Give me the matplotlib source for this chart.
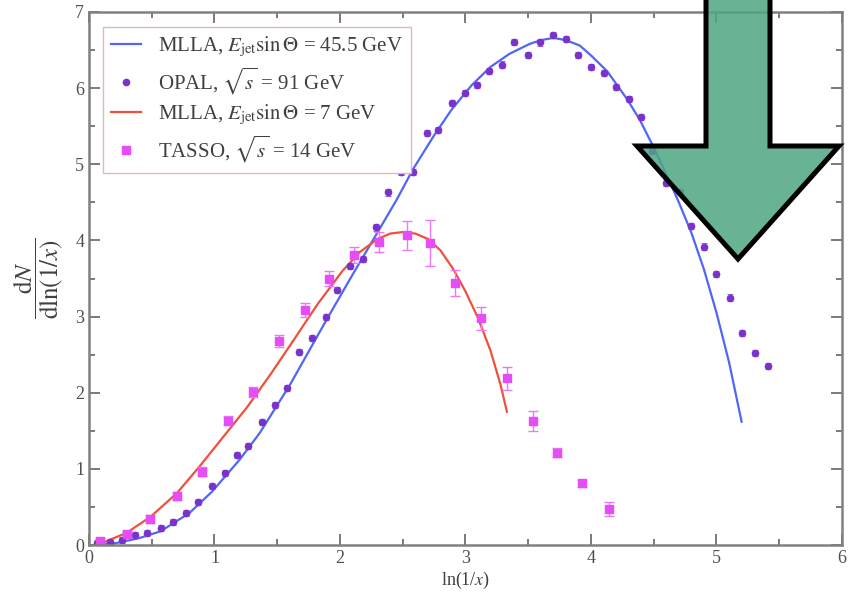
import matplotlib
matplotlib.use("Agg")
import matplotlib.pyplot as plt
from matplotlib.lines import Line2D
from matplotlib.patches import Polygon
from matplotlib.ticker import MultipleLocator

plt.rcParams["font.family"] = ["Liberation Serif", "DejaVu Serif"]
plt.rcParams["mathtext.fontset"] = "stix"

# OPAL, sqrt(s) = 91 GeV
opal_x = [0.06, 0.17, 0.26, 0.37, 0.46, 0.57, 0.67, 0.77, 0.87, 0.98,
          1.08, 1.18, 1.27, 1.38, 1.48, 1.58, 1.67, 1.78, 1.89, 1.98,
          2.08, 2.18, 2.29, 2.38, 2.49, 2.58, 2.69, 2.78, 2.89, 3.00,
          3.09, 3.19, 3.29, 3.39, 3.50, 3.59, 3.70, 3.80, 3.90, 4.00,
          4.10, 4.20, 4.30, 4.40, 4.49, 4.60, 4.71, 4.80, 4.90, 5.00,
          5.11, 5.20, 5.31, 5.41]
opal_y = [0.03, 0.04, 0.07, 0.13, 0.16, 0.22, 0.30, 0.42, 0.57, 0.78,
          0.95, 1.18, 1.30, 1.62, 1.84, 2.06, 2.54, 2.72, 3.00, 3.35,
          3.67, 3.76, 4.17, 4.63, 4.90, 4.90, 5.41, 5.45, 5.81, 5.94,
          6.04, 6.22, 6.31, 6.61, 6.44, 6.60, 6.70, 6.64, 6.44, 6.28,
          6.20, 6.01, 5.86, 5.62, 5.17, 4.76, 4.64, 4.19, 3.92, 3.56,
          3.25, 2.79, 2.52, 2.35]

# TASSO, sqrt(s) = 14 GeV
tasso_x = [0.09, 0.30, 0.49, 0.70, 0.90, 1.11, 1.31, 1.51, 1.72, 1.91,
           2.11, 2.31, 2.53, 2.72, 2.92, 3.12, 3.33, 3.54, 3.73, 3.93, 4.14]
tasso_y = [0.05, 0.14, 0.34, 0.64, 0.96, 1.63, 2.01, 2.68, 3.09, 3.50,
           3.81, 3.98, 4.07, 3.97, 3.44, 2.98, 2.19, 1.63, 1.21, 0.81, 0.47]
tasso_err = [0.04, 0.04, 0.05, 0.05, 0.06, 0.06, 0.07, 0.08, 0.09, 0.10,
             0.10, 0.13, 0.19, 0.30, 0.17, 0.15, 0.15, 0.13, 0.06, 0.05, 0.09]

# MLLA, E_jet sin(Theta) = 45.5 GeV
mlla45_x = [0.05, 0.20, 0.40, 0.57, 0.80, 0.98, 1.20, 1.36, 1.60, 1.89,
            2.10, 2.29, 2.45, 2.58, 2.75, 2.89, 3.05, 3.20, 3.35, 3.51,
            3.60, 3.70, 3.80, 3.91, 4.00, 4.13, 4.29, 4.39, 4.50, 4.60,
            4.70, 4.80, 4.90, 5.00, 5.10, 5.20]
mlla45_y = [0.00, 0.02, 0.09, 0.18, 0.42, 0.70, 1.12, 1.47, 2.10, 2.95,
            3.55, 4.08, 4.53, 4.93, 5.38, 5.72, 6.04, 6.28, 6.45, 6.58,
            6.63, 6.66, 6.63, 6.56, 6.43, 6.22, 5.85, 5.58, 5.22, 4.87,
            4.50, 4.10, 3.62, 3.05, 2.40, 1.62]

# MLLA, E_jet sin(Theta) = 7 GeV
mlla7_x = [0.05, 0.11, 0.30, 0.49, 0.70, 0.88, 1.07, 1.26, 1.45, 1.63,
           1.82, 2.02, 2.16, 2.30, 2.40, 2.50, 2.60, 2.70, 2.80, 2.90,
           3.00, 3.10, 3.20, 3.28, 3.33]
mlla7_y = [0.00, 0.03, 0.16, 0.37, 0.68, 1.03, 1.42, 1.81, 2.25, 2.69,
           3.16, 3.60, 3.85, 4.02, 4.09, 4.11, 4.09, 4.02, 3.87, 3.63,
           3.33, 2.98, 2.55, 2.10, 1.75]

# big arrow drawn over the chart (pixel outline of the image)
arrow_px = [(706, -20), (770, -20), (770, 146), (839, 146),
            (738, 259), (637, 146), (706, 146)]

W, H = 853, 596
fig = plt.figure(figsize=(W / 100, H / 100), dpi=100)
ax = fig.add_axes([89 / W, 1 - 545 / H, 753 / W, 533 / H])

blue, purple, red, magenta = "#5066f8", "#7a32cc", "#f0503c", "#e64cf8"

ax.plot(mlla45_x, mlla45_y, color=blue, lw=1.6)
ax.errorbar(opal_x, opal_y, yerr=0.04, fmt="o", ms=4.5, color=purple,
            ecolor="#9a6ad8", elinewidth=0.8, capsize=2, capthick=0.8)
ax.plot(mlla7_x, mlla7_y, color=red, lw=1.6)
ax.errorbar(tasso_x, tasso_y, yerr=tasso_err, fmt="s", ms=5.5,
            color=magenta, ecolor="#ea78f8", elinewidth=1, capsize=3.5,
            capthick=1)

ax.set_xlim(0, 6)
ax.set_ylim(0, 7)
ax.xaxis.set_major_locator(MultipleLocator(1))
ax.xaxis.set_minor_locator(MultipleLocator(0.5))
ax.yaxis.set_major_locator(MultipleLocator(1))
ax.yaxis.set_minor_locator(MultipleLocator(0.5))
ax.tick_params(which="both", direction="in", top=True, right=True,
               color="#707070", labelcolor="#505050", labelsize=13, width=1.3)
ax.tick_params(which="major", length=8)
ax.tick_params(which="minor", length=4)
for s in ax.spines.values():
    s.set_color("#808080")
    s.set_linewidth(1.8)

ax.set_xlabel(r"ln(1/$x$)", fontsize=13, color="#404040", labelpad=2)
ax.set_ylabel(r"$\dfrac{\mathrm{d}N}{\mathrm{d}\ln(1/x)}$", fontsize=18,
              color="#404040")
ax.yaxis.set_label_coords(-0.03, 0.5)

handles = [
    Line2D([], [], color=blue, lw=1.6),
    Line2D([], [], ls="none", marker="o", ms=4.5, color=purple),
    Line2D([], [], color=red, lw=1.6),
    Line2D([], [], ls="none", marker="s", ms=5.5, color=magenta),
]
labels = [
    r"MLLA, $E_{\rm jet}\sin\Theta$ = 45.5 GeV",
    r"OPAL, $\sqrt{s}$ = 91 GeV",
    r"MLLA, $E_{\rm jet}\sin\Theta$ = 7 GeV",
    r"TASSO, $\sqrt{s}$ = 14 GeV",
]
leg = ax.legend(handles, labels, loc="upper left",
                bbox_to_anchor=(0.018, 0.972), borderaxespad=0,
                fontsize=15, fancybox=False, handlelength=1.45,
                handletextpad=0.8, borderpad=0.4, labelspacing=0.3,
                framealpha=1)
leg.get_frame().set_edgecolor("#dcbcbc")
leg.get_frame().set_linewidth(1)
for t in leg.get_texts():
    t.set_color("#404040")

pts = [(x / W, 1 - y / H) for x, y in arrow_px]
fig.patches.append(Polygon(pts, closed=True, transform=fig.transFigure,
                           facecolor="#4fa683", alpha=0.85, zorder=10))
fig.patches.append(Polygon(pts, closed=True, transform=fig.transFigure,
                           fill=False, edgecolor="black", lw=3.6,
                           joinstyle="miter", zorder=11))

fig.savefig("out.png", dpi=100)
